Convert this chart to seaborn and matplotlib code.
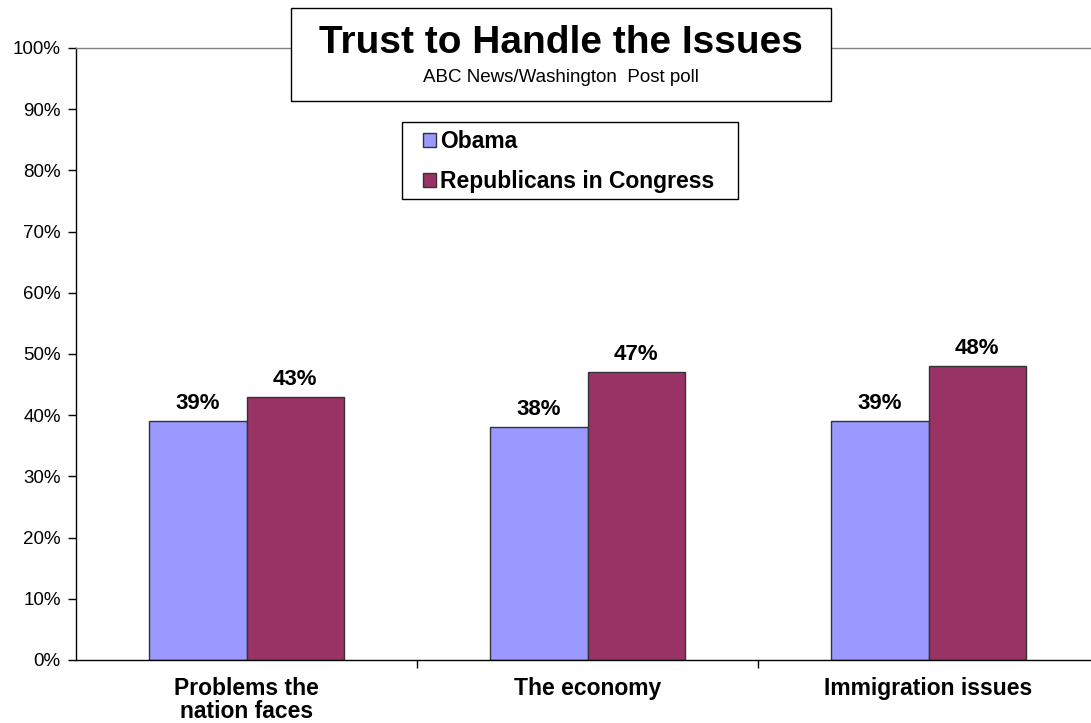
import pandas as pd
import matplotlib
matplotlib.use('Agg')
import matplotlib.pyplot as plt
import matplotlib.patches as mpatches
from matplotlib.ticker import PercentFormatter, FixedLocator
import seaborn as sns

# 데이터
categories = ['Problems the\nnation faces', 'The economy', 'Immigration issues']
series_names = ['Obama', 'Republicans in Congress']
obama = [0.39, 0.38, 0.39]
republicans = [0.43, 0.47, 0.48]
colors = ['#9999FF', '#993366']

df = pd.DataFrame({
    'category': categories * 2,
    'series': [series_names[0]] * 3 + [series_names[1]] * 3,
    'value': obama + republicans,
})

sns.set_theme(style='white')
plt.rcParams['font.family'] = ['Liberation Sans', 'DejaVu Sans']
plt.rcParams['text.color'] = 'black'

fig = plt.figure(figsize=(10.91, 7.23), dpi=100)
W, H = 1091, 723
# 축 영역 (픽셀 기준으로 맞춤)
ax = fig.add_axes([76 / W, (H - 660) / H, (1099 - 76) / W, (660 - 48) / H])

sns.barplot(data=df, x='category', y='value', hue='series', order=categories,
            hue_order=series_names, palette=colors, width=0.57,
            edgecolor='#333333', linewidth=1, saturation=1, ax=ax)

for cont in ax.containers:
    ax.bar_label(cont, labels=[f'{v * 100:.0f}%' for v in cont.datavalues],
                 padding=5, fontsize=16, fontweight='bold', color='black')

ax.set_xlim(-0.5, 2.5)
ax.set_ylim(0, 1)
ax.yaxis.set_major_locator(FixedLocator([i / 10 for i in range(11)]))
ax.yaxis.set_major_formatter(PercentFormatter(1.0, decimals=0))
ax.tick_params(axis='y', which='major', length=6, width=1, color='black',
               labelsize=13.5, labelcolor='black', left=True, direction='out', pad=5)
ax.tick_params(axis='x', which='major', length=0, labelsize=16.5,
               labelcolor='black', pad=12)
for lab in ax.get_xticklabels():
    lab.set_fontweight('bold')
    lab.set_linespacing(1.0)
ax.xaxis.set_minor_locator(FixedLocator([0.5, 1.5]))
ax.tick_params(axis='x', which='minor', length=6, width=1, color='black',
               bottom=True, direction='out')
ax.set_xlabel('')
ax.set_ylabel('')

for s in ['left', 'bottom']:
    ax.spines[s].set_color('black')
    ax.spines[s].set_linewidth(1)
ax.spines['top'].set_color('#808080')
ax.spines['top'].set_linewidth(1)
ax.spines['right'].set_visible(False)

# 범례 (박스는 따로 그림)
legend_box = mpatches.Rectangle((402 / W, 1 - 199 / H), (738 - 402) / W, (199 - 122) / H,
                                transform=fig.transFigure, facecolor='white',
                                edgecolor='black', linewidth=1, zorder=4)
fig.add_artist(legend_box)
handles, labels = ax.get_legend_handles_labels()
ax.legend_.remove()
leg = fig.legend(handles, labels, loc='upper left',
                 bbox_to_anchor=(423 / W, 1 - 130 / H),
                 frameon=False, prop={'size': 16.5, 'weight': 'bold'},
                 labelcolor='black',
                 handlelength=0.55, handleheight=0.55, handletextpad=0.2,
                 labelspacing=0.75, borderpad=0, borderaxespad=0)
leg.set_zorder(5)

# 제목 박스
box = mpatches.Rectangle((291 / W, 1 - 101 / H), (831 - 291) / W, (101 - 8) / H,
                         transform=fig.transFigure, facecolor='white',
                         edgecolor='black', linewidth=1, zorder=4)
fig.add_artist(box)
fig.text(561 / W, 1 - 43 / H, 'Trust to Handle the Issues', ha='center', va='center',
         fontsize=28, fontweight='bold', color='black', zorder=6)
fig.text(561 / W, 1 - 77 / H, 'ABC News/Washington  Post poll', ha='center',
         va='center', fontsize=13.5, color='black', zorder=6)

fig.savefig('out.png', dpi=100)
